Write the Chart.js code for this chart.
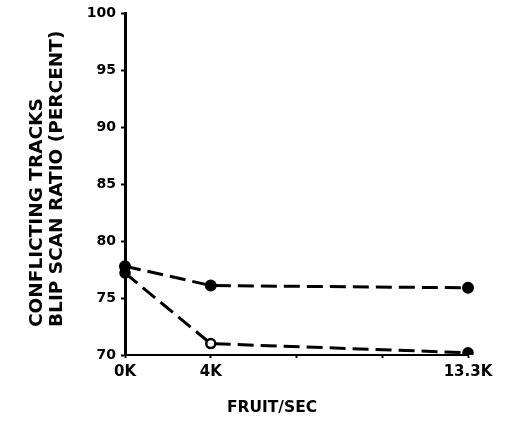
<!DOCTYPE html>
<html>
<head>
<meta charset="utf-8">
<script src="https://cdn.jsdelivr.net/npm/chart.js@4/dist/chart.umd.min.js"></script>
<style>
  html, body { margin: 0; padding: 0; background: #fff; }
  canvas { display: block; }
</style>
</head>
<body>
<canvas id="blipChart" width="512" height="421"></canvas>
<script>
// Categories (blank ones keep 4K at a quarter of the way, as in the original)
const rateLabels = ['0K', '4K', '', '', '13.3K'];

// Blip scan ratio, percent
const upperSeries = [77.8, 76.1, null, null, 75.9];
const lowerSeries = [77.2, 71.0, null, null, 70.2];

const yTitleLines = ['CONFLICTING TRACKS', 'BLIP SCAN RATIO (PERCENT)'];
const xTitle = 'FRUIT/SEC';

const FONT = '"DejaVu Sans", sans-serif';

// Draw the axis titles by hand so they sit where the original has them
const axisTitles = {
    id: 'axisTitles',
    afterDraw(chart) {
        const ctx = chart.ctx;
        ctx.save();
        ctx.fillStyle = '#000';
        ctx.font = 'bold 15.5px ' + FONT;
        ctx.textBaseline = 'middle';
        ctx.textAlign = 'center';
        ctx.fillText(xTitle, 272, 408);

        ctx.font = 'bold 18.5px ' + FONT;
        ctx.translate(0, 327);
        ctx.rotate(-Math.PI / 2);
        ctx.textAlign = 'left';
        ctx.fillText(yTitleLines[0], 0, 37);
        ctx.fillText(yTitleLines[1], 0, 57);
        ctx.restore();
    }
};

const ctx = document.getElementById('blipChart').getContext('2d');
window.myChart = new Chart(ctx, {
    type: 'line',
    data: {
        labels: rateLabels,
        datasets: [
            {
                label: 'upper',
                data: upperSeries,
                borderColor: '#000',
                borderWidth: 3,
                borderDash: [16, 7],
                pointRadius: 4.5,
                pointBackgroundColor: '#000',
                pointBorderColor: '#000',
                spanGaps: true,
                fill: false,
            },
            {
                label: 'lower',
                data: lowerSeries,
                borderColor: '#000',
                borderWidth: 3,
                borderDash: [16, 7],
                pointRadius: 4.5,
                pointBorderWidth: 2.5,
                pointBackgroundColor: ['#000', '#fff', '#000', '#000', '#000'],
                pointBorderColor: '#000',
                spanGaps: true,
                fill: false,
            }
        ]
    },
    options: {
        responsive: false,
        animation: false,
        layout: {
            padding: { left: 0, right: 44, top: 13, bottom: 0 }
        },
        plugins: {
            legend: { display: false },
            tooltip: { enabled: false }
        },
        scales: {
            x: {
                type: 'category',
                offset: false,
                grid: {
                    drawOnChartArea: false,
                    tickLength: 3,
                    tickWidth: 2,
                    color: '#000'
                },
                border: { color: '#000', width: 2 },
                ticks: {
                    color: '#000',
                    font: { family: FONT, size: 15, weight: 'bold' },
                    maxRotation: 0,
                    autoSkip: false,
                    padding: 5
                },
                afterFit(scale) { scale.height = 66; }
            },
            y: {
                min: 70,
                max: 100,
                ticks: {
                    stepSize: 5,
                    color: '#000',
                    font: { family: FONT, size: 14, weight: 'bold' },
                    padding: 5
                },
                grid: {
                    drawOnChartArea: false,
                    tickLength: 4,
                    tickWidth: 2,
                    color: '#000'
                },
                border: { color: '#000', width: 3 },
                afterFit(scale) { scale.width = 125; }
            }
        }
    },
    plugins: [axisTitles]
});
</script>
</body>
</html>
